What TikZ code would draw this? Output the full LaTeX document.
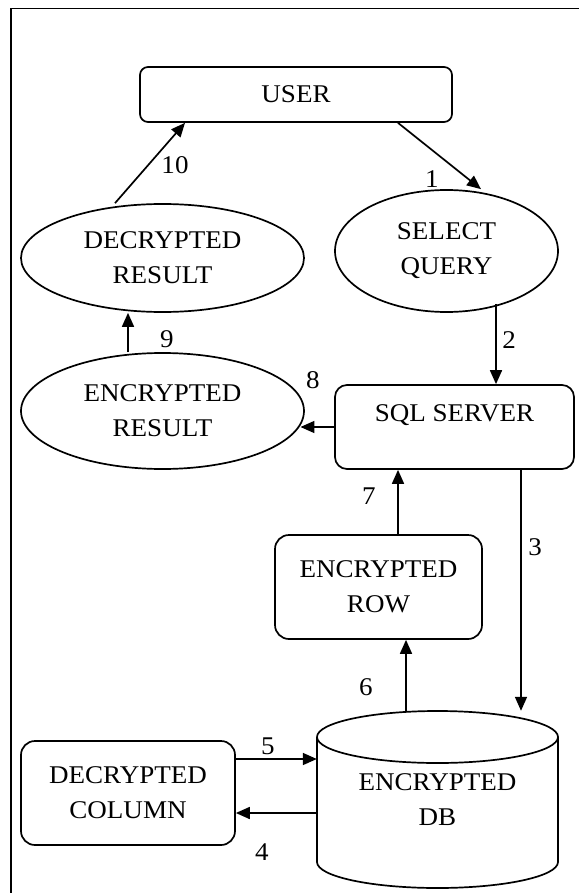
\documentclass[tikz,border=0pt]{standalone}
\usepackage{fontspec}
\setmainfont{Liberation Serif}[FakeStretch=1.06]
\usetikzlibrary{arrows.meta,shapes.geometric,calc}

\tikzset{
  base/.style={font=\fontsize{25.5}{35}\selectfont, align=center, inner sep=0pt},
  roundbox/.style={base, draw, rectangle, rounded corners=#1, line width=1.7pt},
  oval/.style={base, draw, ellipse, line width=1.7pt},
  num/.style={font=\fontsize{25.5}{30}\selectfont, inner sep=0pt},
  arr/.style={line width=1.7pt, -{Triangle[length=14pt,width=12pt]}},
}

\begin{document}
\begin{tikzpicture}[x=1pt, y=-1pt]
\useasboundingbox (0,0) rectangle (579,893);

% frame
\draw[line width=1.8pt] (11,893) -- (11,8.5) -- (579,8.5);

% boxes and ovals
\node[roundbox=8pt, minimum width=312pt, minimum height=55pt] (user) at (296,94.5) {USER};
\node[oval, minimum width=283pt, minimum height=108pt] (dr) at (162.5,258) {DECRYPTED\\RESULT};
\node[oval, minimum width=223pt, minimum height=122pt] (sq) at (446.5,251) {SELECT\\QUERY};
\node[oval, minimum width=283pt, minimum height=116pt] (er) at (162.5,411) {ENCRYPTED\\RESULT};
\node[roundbox=12pt, minimum width=239pt, minimum height=84pt,
      label={[base, yshift=12pt]center:SQL SERVER}] (sql) at (454.5,427) {};
\node[roundbox=14pt, minimum width=207pt, minimum height=104pt] (row) at (378.5,587) {ENCRYPTED\\ROW};
\node[roundbox=14pt, minimum width=214pt, minimum height=104pt] (col) at (128,793) {DECRYPTED\\COLUMN};

% database cylinder
\draw[line width=1.7pt] (437.5,737) ellipse [x radius=120.5, y radius=26];
\draw[line width=1.7pt] (317,737) -- (317,862)
  arc[start angle=180, end angle=0, x radius=120.5, y radius=26] -- (558,737);
\node[base, minimum width=241pt, minimum height=177pt] (db) at (437.5,799.5) {ENCRYPTED\\DB};

% connectors
\draw[arr] ([xshift=-47.5pt]dr.north) -- ([xshift=-111pt]user.south);
\draw[arr] ([xshift=102pt]user.south) -- ([xshift=34.5pt]sq.north);
\draw[arr] ([xshift=49.5pt,yshift=9pt]sq.south) -- ([xshift=49.5pt]sq.south |- sql.north);
\draw[arr] (sql.west) -- (sql.west -| er.-6);
\draw[arr] ([xshift=-34.5pt]er.north) -- ([xshift=-34.5pt]dr.south);
\draw[arr] ([xshift=19.5pt]row.north) -- ([xshift=19.5pt]row.north |- sql.south);
\draw[arr] ([xshift=66.5pt]sql.south) -- ([xshift=66.5pt]sql.south |- db.north);
\draw[arr] ([xshift=-31.5pt]db.north) -- ([xshift=-31.5pt]db.north |- row.south);
\coordinate (c5) at ([yshift=34pt]col.east);
\coordinate (c4) at ([yshift=-20pt]col.east);
\draw[arr] (c5) -- (c5 -| db.west);
\draw[arr] (c4 -| db.west) -- (c4);

% step numbers
\node[num] (n1) at (432,179) {1};
\node[num] (n2) at (509,340) {2};
\node[num] (n3) at (535,547) {3};
\node[num] (n4) at (262,852) {4};
\node[num] (n5) at (268,746) {5};
\node[num] (n6) at (366,687) {6};
\node[num] (n7) at (369,496) {7};
\node[num] (n8) at (313,380) {8};
\node[num] (n9) at (167,339) {9};
\node[num] (n10) at (175,165) {10};
\end{tikzpicture}
\end{document}
